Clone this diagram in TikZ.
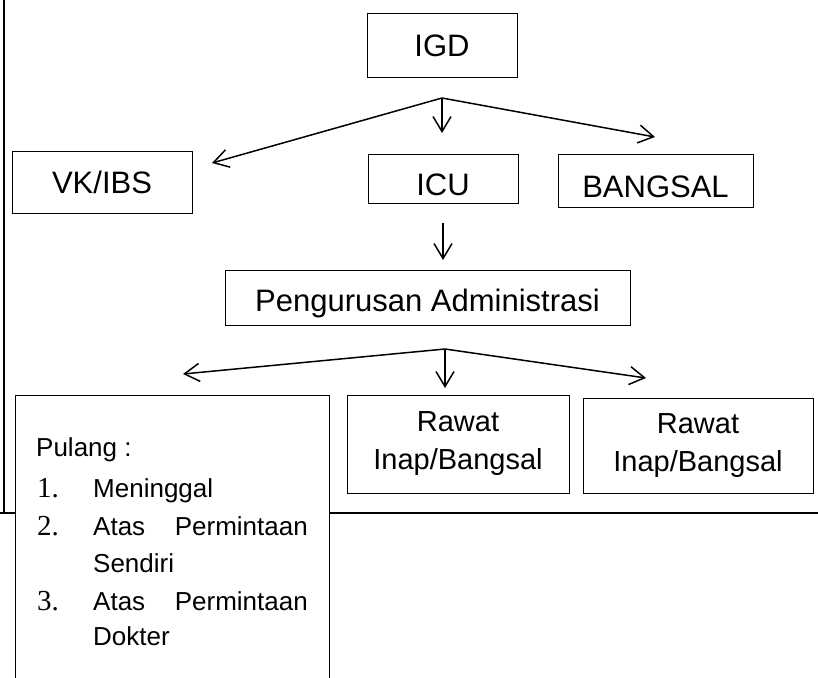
\documentclass[tikz,border=0pt]{standalone}
\usepackage{fontspec}
\setmainfont{Liberation Sans}
\newfontfamily\numfont{Liberation Serif}
\usetikzlibrary{arrows.meta}
\begin{document}
\begin{tikzpicture}[x=1pt,y=-1pt,
  box/.style={draw=black, line width=1pt, fill=white, inner sep=0pt, align=center},
  big/.style={font=\fontsize{31}{37}\selectfont},
  mid/.style={font=\fontsize{29}{38}\selectfont},
  small/.style={font=\fontsize{26}{31}\selectfont, inner sep=0pt},
  num/.style={font=\numfont\fontsize{29}{34}\selectfont, inner sep=0pt},
  conn/.style={line width=1.5pt, -{Straight Barb[length=15pt,width=18pt]}},
  frameline/.style={line width=2pt}]
\clip (0,0) rectangle (818,677);
\fill[white] (0,0) rectangle (818,677);
% page frame lines
\coordinate (ftop) at (4,0);
\coordinate (fcorner) at (4,513);
\coordinate (fleft) at (0,513);
\coordinate (fright) at (818,513);
\draw[frameline] (ftop) -- (fcorner);
\draw[frameline] (fleft) -- (fright);
% boxes
\node[box,big,minimum width=150,minimum height=63] (igd) at (442,45.5) {IGD};
\node[box,big,minimum width=180,minimum height=62] (vk) at (102,182) {VK/IBS};
\node[box,big,minimum width=150,minimum height=49,text height=34pt,text depth=0pt] (icu) at (443,178.5) {ICU};
\node[box,big,minimum width=195,minimum height=53,text height=33pt,text depth=0pt] (bangsal) at (655.5,180.5) {BANGSAL};
\node[box,big,minimum width=405,minimum height=55,text height=28pt,text depth=0pt] (admin) at (427.5,297.5) {Pengurusan Administrasi};
\node[box,mid,minimum width=222,minimum height=98] (rawat1) at (458,444) {Rawat\\Inap/Bangsal};
\node[box,mid,minimum width=230,minimum height=95] (rawat2) at (698,445.5) {Rawat\\Inap/Bangsal};
\node[box,minimum width=314,minimum height=300,anchor=north west] (pulang) at (15,395) {};
% list text
\node[small,anchor=base west] (pl) at (36,456) {Pulang :};
\node[num,anchor=base west] (n1) at (37,497) {1.};
\node[small,anchor=base west] (t1) at (93,497) {Meninggal};
\node[num,anchor=base west] (n2) at (37,535) {2.};
\node[small,anchor=base west] (t2a) at (93,535) {Atas};
\node[small,anchor=base east] (t2b) at (308,535) {Permintaan};
\node[small,anchor=base west] (t2c) at (93,572) {Sendiri};
\node[num,anchor=base west] (n3) at (37,610) {3.};
\node[small,anchor=base west] (t3a) at (93,610) {Atas};
\node[small,anchor=base east] (t3b) at (308,610) {Permintaan};
\node[small,anchor=base west] (t3c) at (93,645) {Dokter};
% connectors
\coordinate (b1) at (442,98);
\coordinate (b1l) at (212,163);
\coordinate (b1d) at (442,133);
\coordinate (b1r) at (655,137);
\draw[conn] (b1) -- (b1l);
\draw[conn] (b1) -- (b1d);
\draw[conn] (b1) -- (b1r);
\coordinate (c1) at (443,223);
\coordinate (c2) at (443,260);
\draw[conn] (c1) -- (c2);
\coordinate (b2) at (445,349);
\coordinate (b2l) at (183,374);
\coordinate (b2d) at (445,388);
\coordinate (b2r) at (646,378);
\draw[conn] (b2) -- (b2l);
\draw[conn] (b2) -- (b2d);
\draw[conn] (b2) -- (b2r);
\end{tikzpicture}
\end{document}
